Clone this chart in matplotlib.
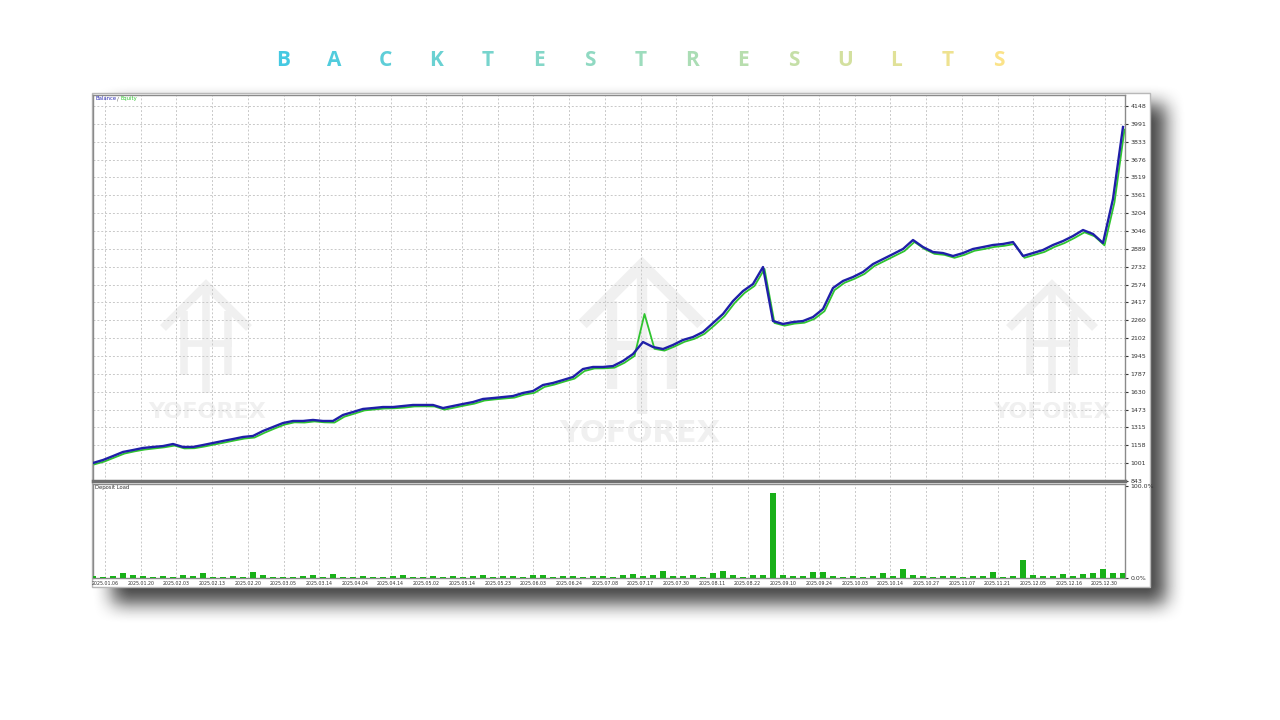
import numpy as np
import matplotlib
matplotlib.use("Agg")
import matplotlib.pyplot as plt
from matplotlib.patches import Rectangle
from matplotlib.colors import LinearSegmentedColormap

# balance / equity, one value per step
balance = [1002, 1028, 1063, 1099, 1116, 1134, 1143, 1151, 1169, 1143,
           1143, 1160, 1178, 1196, 1213, 1231, 1240, 1284, 1319, 1354,
           1372, 1372, 1381, 1372, 1372, 1425, 1451, 1478, 1486, 1495,
           1495, 1504, 1513, 1513, 1513, 1486, 1504, 1522, 1539, 1566,
           1574, 1583, 1592, 1619, 1636, 1689, 1707, 1733, 1760, 1830,
           1848, 1848, 1856, 1901, 1962, 2068, 2024, 2006, 2042, 2086,
           2112, 2156, 2235, 2315, 2429, 2517, 2579, 2729, 2253, 2227,
           2244, 2253, 2288, 2359, 2544, 2606, 2641, 2685, 2755, 2799,
           2843, 2888, 2967, 2905, 2861, 2852, 2826, 2852, 2888, 2905,
           2923, 2932, 2949, 2826, 2852, 2879, 2923, 2958, 3002, 3055,
           3020, 2941, 3330, 3963]

equity = [990, 1015, 1050, 1085, 1104, 1120, 1130, 1140, 1155, 1130,
          1132, 1147, 1165, 1182, 1200, 1217, 1226, 1268, 1305, 1340,
          1360, 1358, 1368, 1360, 1358, 1410, 1437, 1465, 1474, 1482,
          1484, 1490, 1500, 1501, 1500, 1472, 1490, 1508, 1525, 1552,
          1562, 1570, 1578, 1605, 1620, 1672, 1693, 1720, 1745, 1812,
          1835, 1836, 1842, 1885, 1945, 2315, 2008, 1992, 2028, 2070,
          2096, 2140, 2215, 2296, 2410, 2500, 2562, 2712, 2236, 2212,
          2230, 2238, 2272, 2340, 2525, 2590, 2625, 2668, 2738, 2782,
          2826, 2870, 2950, 2888, 2845, 2836, 2810, 2836, 2872, 2888,
          2906, 2916, 2932, 2810, 2836, 2862, 2906, 2940, 2985, 3035,
          3000, 2920, 3300, 3940]

deposit_load = [2, 1.5, 2, 5, 3, 2.5, 1.5, 2, 1, 3,
                2, 5, 1.5, 1, 2, 1.5, 6, 3, 1, 1.5,
                1, 2, 3, 1.5, 4, 1.5, 1, 2, 1, 1.5,
                2, 3, 1, 1.5, 2, 1, 2.5, 1.5, 2, 3,
                1.5, 2, 2.5, 1, 3, 3.5, 1.5, 2, 2.5, 1,
                2, 2.5, 1.5, 3, 4, 2, 3, 8, 2, 2.5,
                3, 1.5, 5, 8, 3, 1.5, 3, 3, 92, 3,
                2.5, 2, 6, 6, 2, 1.5, 2, 1.5, 2, 5,
                2, 10, 3, 2, 1.5, 2, 2, 1.5, 2, 2,
                7, 1.5, 2, 19, 3, 2, 2, 4, 2.5, 4,
                5, 10, 5, 5]

y_labels = ["843", "1001", "1158", "1315", "1473", "1630", "1787", "1945",
            "2102", "2260", "2417", "2574", "2732", "2889", "3046", "3204",
            "3361", "3519", "3676", "3833", "3991", "4148"]

dates = ["2025.01.06", "2025.01.20", "2025.02.03", "2025.02.13", "2025.02.20",
         "2025.03.05", "2025.03.14", "2025.04.04", "2025.04.14", "2025.05.02",
         "2025.05.14", "2025.05.23", "2025.06.03", "2025.06.24", "2025.07.08",
         "2025.07.17", "2025.07.30", "2025.08.11", "2025.08.22", "2025.09.10",
         "2025.09.24", "2025.10.03", "2025.10.14", "2025.10.27", "2025.11.07",
         "2025.11.21", "2025.12.05", "2025.12.16", "2025.12.30"]

title = "BACKTESTRESULTS"

W, H = 1280, 720
fig = plt.figure(figsize=(12.8, 7.2), dpi=100, facecolor="white")

# background layer in pixel coords: shadow, screenshot card, watermarks
bg = fig.add_axes([0, 0, 1, 1])
bg.set_xlim(0, W)
bg.set_ylim(H, 0)
bg.axis("off")


def box_blur(a, r, axis):
    c = np.cumsum(np.pad(a, [(r + 1, r) if i == axis else (0, 0) for i in range(2)], mode="edge"), axis=axis)
    if axis == 0:
        return (c[2 * r + 1:] - c[:-2 * r - 1]) / (2 * r + 1)
    return (c[:, 2 * r + 1:] - c[:, :-2 * r - 1]) / (2 * r + 1)


mask = np.zeros((H, W))
mask[104:604, 112:1166] = 1.0
for _ in range(2):
    mask = box_blur(mask, 10, 0)
    mask = box_blur(mask, 10, 1)
shade = 1 - 0.72 * mask
bg.imshow(shade, cmap="gray", vmin=0, vmax=1, extent=(0, W, H, 0), zorder=0, interpolation="bilinear")
bg.add_patch(Rectangle((92, 93), 1058, 494, facecolor="white", edgecolor="#b8b8b8", lw=1, zorder=1))

wm = "#f0f0f0"


def draw_logo(cx, top, s):
    lw = 6 * s
    bg.plot([cx - 43 * s, cx, cx + 43 * s], [top + 45 * s, top + 2 * s, top + 45 * s], color=wm, lw=lw,
            solid_capstyle="butt", solid_joinstyle="miter", zorder=2)
    for dx in (-22, 22):
        bg.plot([cx + dx * s, cx + dx * s], [top + 28 * s, top + 92 * s], color=wm, lw=lw * 0.9,
                solid_capstyle="butt", zorder=2)
    bg.plot([cx, cx], [top, top + 110 * s], color=wm, lw=lw * 0.9, solid_capstyle="butt", zorder=2)
    bg.plot([cx - 22 * s, cx + 22 * s], [top + 60 * s, top + 60 * s], color=wm, lw=lw * 0.8, zorder=2)


draw_logo(206, 283, 1.0)
draw_logo(642, 262, 1.38)
draw_logo(1052, 283, 1.0)
bg.text(207, 412, "YOFOREX", ha="center", va="center", fontsize=16, color=wm, fontweight="bold", zorder=2)
bg.text(640, 433, "YOFOREX", ha="center", va="center", fontsize=22, color=wm, fontweight="bold", zorder=2)
bg.text(1052, 412, "YOFOREX", ha="center", va="center", fontsize=16, color=wm, fontweight="bold", zorder=2)

# title with cyan-to-yellow gradient letters
grad = LinearSegmentedColormap.from_list("g", ["#45c9e2", "#9ddcbd", "#fbe389"])
for i, ch in enumerate(title):
    bg.text(283 + i * 51.1, 60, ch, ha="center", va="center", fontsize=15,
            color=grad(i / (len(title) - 1)), family="Open Sans", fontweight="bold")

# main balance / equity panel
x = np.arange(len(balance))
ax = fig.add_axes([93 / W, 1 - 481 / H, (1125 - 93) / W, (481 - 95) / H], facecolor="none")
ax.plot(x + 0.15, equity, color="#2fc42f", lw=1.3, zorder=3)
ax.plot(x, balance, color="#1f1fa8", lw=1.7, zorder=4)
ax.set_xlim(0, 103.2)
ax.set_ylim(843, 4245)
yt = [int(v) for v in y_labels]
ax.set_yticks(yt)
ax.set_yticklabels(y_labels)
ax.yaxis.tick_right()
ax.tick_params(axis="y", labelsize=4.5, length=2, pad=2, colors="#333333")
tick_x = 1.2 + 3.57 * np.arange(len(dates))
ax.set_xticks(tick_x)
ax.set_xticklabels([])
ax.tick_params(axis="x", length=0)
ax.grid(True, color="#c8c8c8", ls=(0, (2, 2)), lw=0.7)
for sp in ax.spines.values():
    sp.set_color("#8a8a8a")
    sp.set_linewidth(1)
ax.spines["bottom"].set_linewidth(2.5)
ax.spines["bottom"].set_color("#707070")
ax.text(0.002, 0.997, "Balance", transform=ax.transAxes, fontsize=3.8, color="#2a2ab0", va="top", ha="left")
ax.text(0.023, 0.997, "/", transform=ax.transAxes, fontsize=3.8, color="#555555", va="top", ha="left")
ax.text(0.027, 0.997, "Equity", transform=ax.transAxes, fontsize=3.8, color="#2fc42f", va="top", ha="left")

# deposit load panel
ax2 = fig.add_axes([93 / W, 1 - 578 / H, (1125 - 93) / W, (578 - 484) / H], facecolor="none")
ax2.bar(x, deposit_load, width=0.55, color="#19b019", zorder=3)
ax2.set_xlim(0, 103.2)
ax2.set_ylim(0, 102)
ax2.set_yticks([0, 100])
ax2.set_yticklabels(["0.0%", "100.0%"])
ax2.yaxis.tick_right()
ax2.tick_params(axis="y", labelsize=4.5, length=2, pad=2, colors="#333333")
ax2.set_xticks(tick_x)
ax2.set_xticklabels(dates, fontsize=3.4, color="#333333")
ax2.tick_params(axis="x", length=0, pad=2)
ax2.grid(True, axis="x", color="#c8c8c8", ls=(0, (2, 2)), lw=0.7)
for sp in ax2.spines.values():
    sp.set_color("#8a8a8a")
    sp.set_linewidth(1)
ax2.text(0.002, 0.985, "Deposit Load", transform=ax2.transAxes, fontsize=3.8, color="#333333", va="top", ha="left")

fig.savefig("out.png", dpi=100, facecolor="white")
